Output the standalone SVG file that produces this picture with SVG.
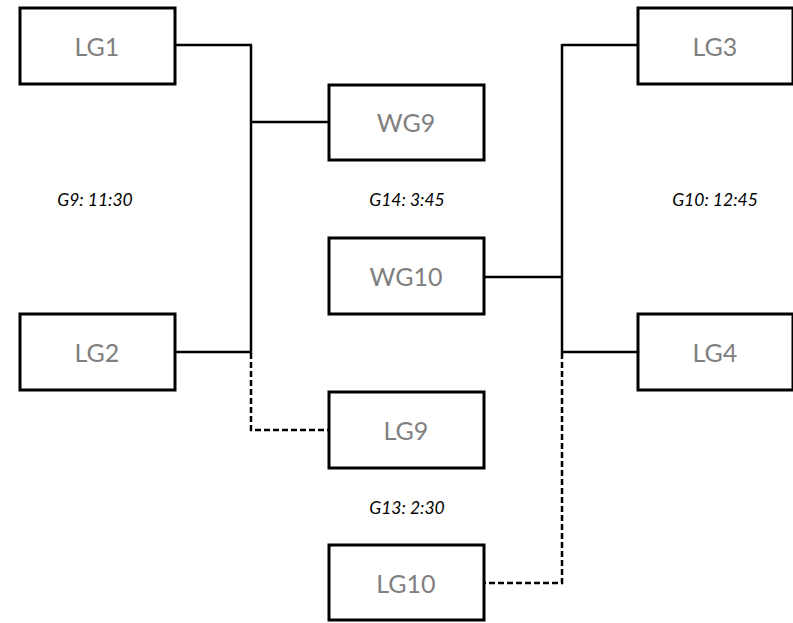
<svg xmlns="http://www.w3.org/2000/svg" width="793" height="623" viewBox="0 0 793 623">
<style>
.box{fill:#fff;stroke:#000;stroke-width:3}
.lbl{font-family:Lato,"Open Sans",sans-serif;font-size:25px;fill:#808080;text-anchor:middle;dominant-baseline:central}
.note{font-family:Lato,"Open Sans",sans-serif;font-size:17.5px;font-style:italic;fill:#000;text-anchor:middle}
.ln{fill:none;stroke:#000;stroke-width:2.5}
.dash{fill:none;stroke:#000;stroke-width:2.5;stroke-dasharray:6 3}
</style>
<rect width="793" height="623" fill="#fff"/>
<g id="connectors">
<path class="ln" d="M175 45H252M251 45V353M251 122H330M175 352H252"/>
<path class="dash" d="M251 353V430H330"/>
<path class="ln" d="M638 45H562M562 44V353M484 277H562M562 352H638"/>
<path class="dash" d="M562 353V583H484"/>
</g>
<g id="LG1"><rect class="box" x="20" y="8" width="155" height="76"/><text class="lbl" x="97" y="46">LG1</text></g>
<g id="LG2"><rect class="box" x="20" y="314" width="155" height="76"/><text class="lbl" x="97" y="352">LG2</text></g>
<g id="WG9"><rect class="box" x="329" y="85" width="155" height="75"/><text class="lbl" x="406" y="122">WG9</text></g>
<g id="WG10"><rect class="box" x="329" y="238" width="155" height="76"/><text class="lbl" x="406" y="276">WG10</text></g>
<g id="LG9"><rect class="box" x="329" y="392" width="155" height="76"/><text class="lbl" x="406" y="430">LG9</text></g>
<g id="LG10"><rect class="box" x="329" y="545" width="155" height="75"/><text class="lbl" x="406" y="583">LG10</text></g>
<g id="LG3"><rect class="box" x="638" y="8" width="155" height="76"/><text class="lbl" x="715" y="46">LG3</text></g>
<g id="LG4"><rect class="box" x="638" y="314" width="155" height="76"/><text class="lbl" x="715" y="352">LG4</text></g>
<g id="notes">
<text class="note" x="95" y="206">G9: 11:30</text>
<text class="note" x="407" y="206">G14: 3:45</text>
<text class="note" x="715" y="206">G10: 12:45</text>
<text class="note" x="407" y="514">G13: 2:30</text>
</g>
</svg>
